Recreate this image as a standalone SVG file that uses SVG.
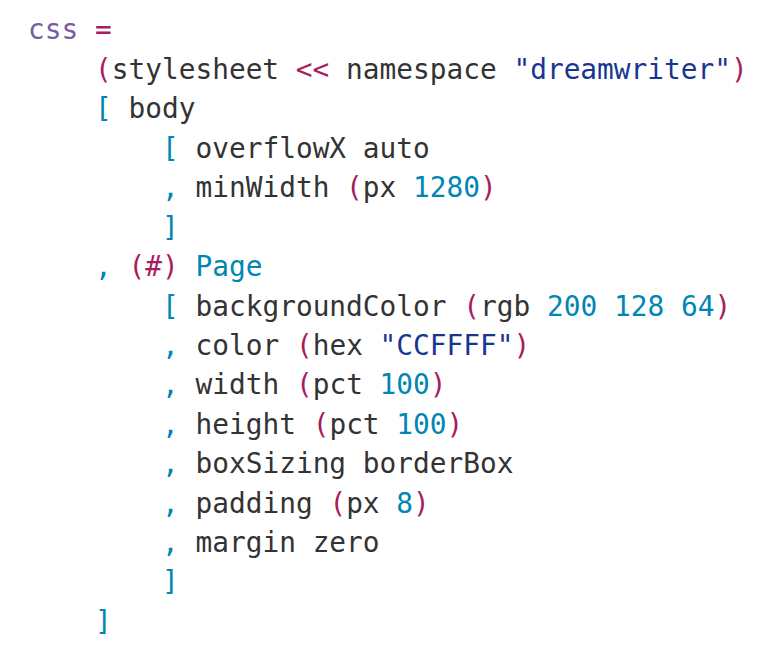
<svg xmlns="http://www.w3.org/2000/svg" width="774" height="672" viewBox="0 0 774 672">
<style>
text{font-family:"DejaVu Sans Mono","Liberation Mono",monospace;font-size:27.8px;fill:#333;white-space:pre}
.k{fill:#795da3}.o{fill:#a71d5d}.b{fill:#0086b3}.s{fill:#183691}
</style>
<rect width="774" height="672" fill="#fff"/>
<g id="code" xml:space="preserve">
<text x="28" y="39"><tspan class="k">css</tspan> <tspan class="o">=</tspan></text>
<text x="95" y="79"><tspan class="o">(</tspan>stylesheet <tspan class="o">&lt;&lt;</tspan> namespace <tspan class="s">"dreamwriter"</tspan><tspan class="o">)</tspan></text>
<text x="95" y="118"><tspan class="b">[</tspan> body</text>
<text x="162" y="158"><tspan class="b">[</tspan> overflowX auto</text>
<text x="162" y="197"><tspan class="b">,</tspan> minWidth <tspan class="o">(</tspan>px <tspan class="b">1280</tspan><tspan class="o">)</tspan></text>
<text x="162" y="237"><tspan class="b">]</tspan></text>
<text x="95" y="276"><tspan class="b">,</tspan> <tspan class="o">(#)</tspan> <tspan class="b">Page</tspan></text>
<text x="162" y="316"><tspan class="b">[</tspan> backgroundColor <tspan class="o">(</tspan>rgb <tspan class="b">200</tspan> <tspan class="b">128</tspan> <tspan class="b">64</tspan><tspan class="o">)</tspan></text>
<text x="162" y="355"><tspan class="b">,</tspan> color <tspan class="o">(</tspan>hex <tspan class="s">"CCFFFF"</tspan><tspan class="o">)</tspan></text>
<text x="162" y="394"><tspan class="b">,</tspan> width <tspan class="o">(</tspan>pct <tspan class="b">100</tspan><tspan class="o">)</tspan></text>
<text x="162" y="434"><tspan class="b">,</tspan> height <tspan class="o">(</tspan>pct <tspan class="b">100</tspan><tspan class="o">)</tspan></text>
<text x="162" y="473"><tspan class="b">,</tspan> boxSizing borderBox</text>
<text x="162" y="513"><tspan class="b">,</tspan> padding <tspan class="o">(</tspan>px <tspan class="b">8</tspan><tspan class="o">)</tspan></text>
<text x="162" y="552"><tspan class="b">,</tspan> margin zero</text>
<text x="162" y="591"><tspan class="b">]</tspan></text>
<text x="95" y="631"><tspan class="b">]</tspan></text>
</g>
</svg>
